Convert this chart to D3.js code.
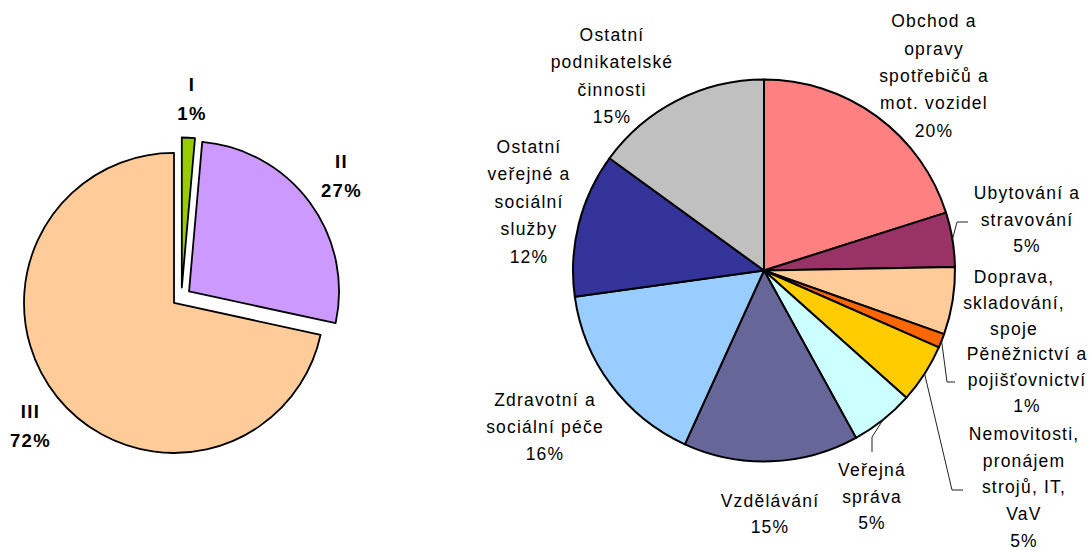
<!DOCTYPE html>
<html>
<head>
<meta charset="utf-8">
<script src="https://cdnjs.cloudflare.com/ajax/libs/d3/7.8.5/d3.min.js"></script>
<style>
  html, body { margin: 0; padding: 0; background: #fff; }
  svg { display: block; font-family: 'Liberation Sans', Arial, sans-serif; }
  .slice { stroke: #000; stroke-linejoin: round; }
  .leader { fill: none; stroke: #222; stroke-width: 1; }
  .lbl { font-size: 17.5px; letter-spacing: 1.2px; fill: #000; text-anchor: middle; }
  .lbl-bold { font-size: 18.5px; font-weight: bold; letter-spacing: 1.4px; fill: #000; text-anchor: middle; }
</style>
</head>
<body>
<div id="chart"></div>
<script>
// Sectors (left pie)
var sectorNames  = ['I', 'II', 'III'];
var sectorValues = [1.4, 27.0, 71.6];
var sectorColors = ['#99CC00', '#CC99FF', '#FFCC99'];

// Branches of the tertiary sector (right pie), clockwise from 12 o'clock
var branchNames = [
  ['Obchod a', 'opravy', 'spotřebičů a', 'mot. vozidel'],
  ['Ubytování a', 'stravování'],
  ['Doprava,', 'skladování,', 'spoje'],
  ['Pěněžnictví a', 'pojišťovnictví'],
  ['Nemovitosti,', 'pronájem', 'strojů, IT,', 'VaV'],
  ['Veřejná', 'správa'],
  ['Vzdělávání'],
  ['Zdravotní a', 'sociální péče'],
  ['Ostatní', 'veřejné a', 'sociální', 'služby'],
  ['Ostatní', 'podnikatelské', 'činnosti']
];
var branchValues = [20.1, 4.6, 5.7, 1.2, 5.0, 5.4, 14.8, 16.0, 12.2, 15.0];
var branchShowPct = [true, true, false, true, true, true, true, true, true, true];
var branchColors = ['#FF8080', '#993366', '#FFCC99', '#FF6600', '#FFCC00',
                    '#CCFFFF', '#666699', '#99CCFF', '#333399', '#C0C0C0'];

// Layout
var W = 1091, H = 550;

var left  = {cx: 181.4, cy: 297, r: 150, explode: 9.5};
var right = {cx: 764, cy: 270.5, r: 191};

// label anchors: x, first baseline, line height
var sectorLabelPos = [
  {x: 192, y: 90.7, lh: 29},
  {x: 341.5, y: 168, lh: 28.7},
  {x: 30.5, y: 418.3, lh: 28.4}
];

var branchLabelPos = [
  {x: 934, y: 27.3, lh: 27.3},
  {x: 1027, y: 199.3, lh: 26.2},
  {x: 1014, y: 283.3, lh: 25.9},
  {x: 1027, y: 360, lh: 25.9},
  {x: 1024, y: 440, lh: 26.7},
  {x: 872, y: 476, lh: 26.6},
  {x: 770, y: 506.7, lh: 26.7},
  {x: 545, y: 406, lh: 27},
  {x: 529, y: 153, lh: 27.4},
  {x: 612, y: 41, lh: 27.3}
];

// leader line elbows (null = no leader)
var branchLeaders = [
  null,
  [[957, 222], [968, 222]],
  null,
  [[947, 382], [955, 382]],
  [[952, 490], [963, 490]],
  [[872, 437], [872, 452]],
  null, null, null, null
];

var svg = d3.select('#chart').append('svg')
  .attr('width', W)
  .attr('height', H);

var pct = function(values) {
  var total = d3.sum(values);
  return values.map(function(v) { return Math.round(v / total * 100) + '%'; });
};

var writeLines = function(g, lines, pos, cls) {
  var t = g.append('text')
    .attr('class', cls)
    .attr('x', pos.x)
    .attr('y', pos.y);
  lines.forEach(function(line, i) {
    t.append('tspan')
      .attr('x', pos.x)
      .attr('y', pos.y + i * pos.lh)
      .text(line);
  });
};

// Left pie (exploded)
var drawSectors = function() {
  var pie = d3.pie().sort(null).value(function(d) { return d; });
  var arcs = pie(sectorValues);
  var arc = d3.arc().innerRadius(0).outerRadius(left.r);
  var pcts = pct(sectorValues);

  var g = svg.append('g')
    .attr('transform', 'translate(' + left.cx + ',' + left.cy + ')');

  g.selectAll('.slice')
    .data(arcs)
  .enter().append('path')
    .attr('class', 'slice')
    .attr('stroke-width', 1.8)
    .attr('fill', function(d, i) { return sectorColors[i]; })
    .attr('transform', function(d) {
      var a = (d.startAngle + d.endAngle) / 2;
      return 'translate(' + (Math.sin(a) * left.explode) + ',' + (-Math.cos(a) * left.explode) + ')';
    })
    .attr('d', arc);

  var lg = svg.append('g');
  sectorNames.forEach(function(name, i) {
    writeLines(lg, [name, pcts[i]], sectorLabelPos[i], 'lbl-bold');
  });
};

// Right pie
var drawBranches = function() {
  var pie = d3.pie().sort(null).value(function(d) { return d; });
  var arcs = pie(branchValues);
  var arc = d3.arc().innerRadius(0).outerRadius(right.r);
  var pcts = pct(branchValues);

  var g = svg.append('g')
    .attr('transform', 'translate(' + right.cx + ',' + right.cy + ')');

  g.selectAll('.slice')
    .data(arcs)
  .enter().append('path')
    .attr('class', 'slice')
    .attr('stroke-width', 2)
    .attr('fill', function(d, i) { return branchColors[i]; })
    .attr('d', arc);

  // leader lines from slice edge to label
  var line = d3.line();
  arcs.forEach(function(d, i) {
    if (!branchLeaders[i]) return;
    var a = (d.startAngle + d.endAngle) / 2;
    var start = [right.cx + Math.sin(a) * right.r, right.cy - Math.cos(a) * right.r];
    svg.append('path')
      .attr('class', 'leader')
      .attr('d', line([start].concat(branchLeaders[i])));
  });

  var lg = svg.append('g');
  branchNames.forEach(function(lines, i) {
    var all = branchShowPct[i] ? lines.concat([pcts[i]]) : lines;
    writeLines(lg, all, branchLabelPos[i], 'lbl');
  });
};

drawSectors();
drawBranches();
</script>
</body>
</html>
